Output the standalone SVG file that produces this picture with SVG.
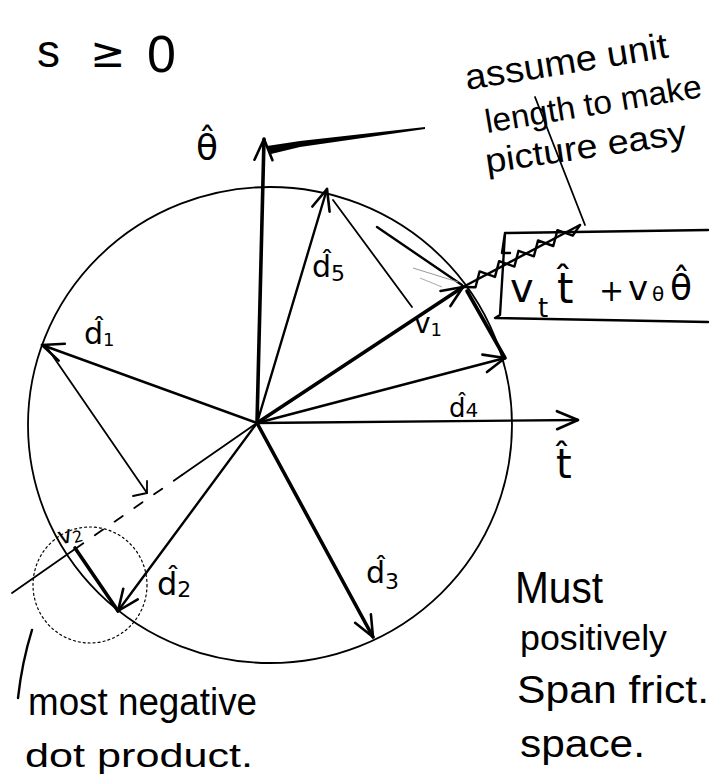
<svg xmlns="http://www.w3.org/2000/svg" width="712" height="780" viewBox="0 0 712 780">
<style>
.ln{stroke:#000;fill:none;stroke-linecap:round;stroke-linejoin:round}
.thin{stroke-width:1.8}
.mid{stroke-width:2.4}
.thick{stroke-width:3.6}
.hw{font-family:"Liberation Sans","DejaVu Sans",sans-serif;fill:#000}
.math{font-family:"DejaVu Sans","Liberation Sans",sans-serif;fill:#000}
</style>
<defs>
<marker id="ah" markerUnits="userSpaceOnUse" markerWidth="26" markerHeight="26" viewBox="0 0 26 26" refX="23" refY="13" orient="auto">
<path d="M2,4 L23,13 L2,22" fill="none" stroke="#000" stroke-width="2.6" stroke-linecap="round" stroke-linejoin="round"/>
</marker>
</defs>
<rect width="712" height="780" fill="#fff"/>

<g id="circle">
<ellipse class="ln thin" cx="270" cy="425" rx="242" ry="238"/>
</g>

<g id="connectors">
<line id="axis-theta" class="ln thick" x1="257" y1="423" x2="264" y2="139" marker-end="url(#ah)"/>
<polygon points="267,146 300,141 425,127 425,129 300,147 271,154" fill="#000"/>
<line id="axis-t" class="ln mid" x1="257" y1="423" x2="578" y2="420" marker-end="url(#ah)"/>
<line id="d1" class="ln mid" x1="257" y1="423" x2="42" y2="345" marker-end="url(#ah)"/>
<line id="d2" class="ln mid" x1="257" y1="423" x2="118" y2="611" marker-end="url(#ah)"/>
<line id="d3" class="ln thick" x1="257" y1="423" x2="373" y2="637" marker-end="url(#ah)"/>
<line id="d4" class="ln mid" x1="257" y1="423" x2="505" y2="358" marker-end="url(#ah)"/>
<line id="d5" class="ln mid" x1="257" y1="423" x2="327" y2="189" marker-end="url(#ah)"/>
<line id="v1" class="ln thick" x1="257" y1="423" x2="463" y2="287" marker-end="url(#ah)"/>
<line class="ln thin" x1="48" y1="349" x2="147" y2="493"/>
<polyline class="ln thin" points="133,496 147,493 147,481"/>
<line class="ln thin" x1="333" y1="200" x2="412" y2="307"/>
<line class="ln mid" x1="377" y1="227" x2="462" y2="285"/>
<line stroke="#999" stroke-width="1" x1="413" y1="268" x2="458" y2="282"/>
<line stroke="#aaa" stroke-width="1" x1="420" y1="278" x2="442" y2="287"/>
<line class="ln thick" x1="467" y1="291" x2="505" y2="358"/>
<line class="ln thin" x1="257" y1="423" x2="182" y2="475"/>
<line class="ln thin" x1="182" y1="475" x2="75" y2="549" stroke-dasharray="10 14"/>
<line class="ln thin" x1="75" y1="549" x2="12" y2="593"/>
<line id="v2" class="ln thick" x1="75" y1="548" x2="118" y2="611"/>
<ellipse class="ln" stroke-width="1.2" stroke-dasharray="2 3" cx="90" cy="585" rx="57" ry="58"/>
<line class="ln mid" x1="463" y1="287" x2="580" y2="225"/>
<polyline class="ln mid" points="463,287 475.5,287.2 479.6,271.4 495,276.9 499.1,261.1 514.4,266.6 518.5,250.8 533.9,256.3 538,240.5 553.3,246 557.4,230.2 572.8,235.7 580,225"/>
<line class="ln thin" x1="535" y1="97" x2="585" y2="225"/>
<path class="ln mid" d="M32,630 Q22,662 18,698"/>
</g>

<g id="box">
<path class="ln mid" d="M708,230 L505,233 L502,253 L510,253 M505,233 L500,315 L495,318 L708,322"/>
<text class="math" font-size="40"><tspan x="510" y="302">v</tspan><tspan x="538" y="317" font-size="26">t</tspan><tspan x="557" y="303" font-size="42">t̂</tspan><tspan x="599" y="301" font-size="30">+</tspan><tspan x="628" y="300" font-size="34">v</tspan><tspan x="652" y="301" font-size="20">θ</tspan><tspan x="670" y="300" font-size="36">θ̂</tspan></text>
</g>

<g id="labels">
<text class="hw" font-size="46"><tspan x="37" y="67">s</tspan><tspan x="90" y="67" font-size="42" class="math">≥</tspan><tspan x="147" y="72" font-size="52">0</tspan></text>
<text class="math" font-size="36" x="196" y="160">θ̂</text>
<text class="math" font-size="40" x="556" y="478">t̂</text>
<text class="math" font-size="30" x="84" y="344">d̂<tspan font-size="18" dy="2">1</tspan></text>
<text class="math" font-size="32" x="157" y="595">d̂<tspan font-size="22" dy="2">2</tspan></text>
<text class="math" font-size="30" x="366" y="583">d̂<tspan font-size="22" dy="6">3</tspan></text>
<text class="math" font-size="26" x="449" y="417">d̂<tspan font-size="20" dy="0">4</tspan></text>
<text class="math" font-size="30" x="312" y="277">d̂<tspan font-size="22" dy="4">5</tspan></text>
<text class="math" font-size="28" x="414" y="333">v<tspan font-size="18" dy="3">1</tspan></text>
<text class="math" font-size="24" x="60" y="545" transform="rotate(-15 60 545)">v<tspan font-size="16" dy="2">2</tspan></text>
</g>

<g id="notes">
<text class="hw" font-size="36" x="467" y="90" transform="rotate(-9.2 467 90)" textLength="205" lengthAdjust="spacingAndGlyphs">assume unit</text>
<text class="hw" font-size="33" x="487" y="133" transform="rotate(-9.5 487 133)" textLength="219" lengthAdjust="spacingAndGlyphs">length to make</text>
<text class="hw" font-size="34" x="487" y="173" transform="rotate(-8.4 487 173)" textLength="203" lengthAdjust="spacingAndGlyphs">picture easy</text>
<text class="hw" font-size="38" x="28" y="715" textLength="229" lengthAdjust="spacingAndGlyphs">most negative</text>
<text class="hw" font-size="34" x="25" y="767" textLength="228" lengthAdjust="spacingAndGlyphs">dot product.</text>
<text class="hw" font-size="44" x="515" y="603" textLength="88" lengthAdjust="spacingAndGlyphs">Must</text>
<text class="hw" font-size="35" x="520" y="650" textLength="147" lengthAdjust="spacingAndGlyphs">positively</text>
<text class="hw" font-size="38" x="517" y="703" textLength="192" lengthAdjust="spacingAndGlyphs">Span frict.</text>
<text class="hw" font-size="38" x="520" y="757" textLength="125" lengthAdjust="spacingAndGlyphs">space.</text>
</g>
</svg>
